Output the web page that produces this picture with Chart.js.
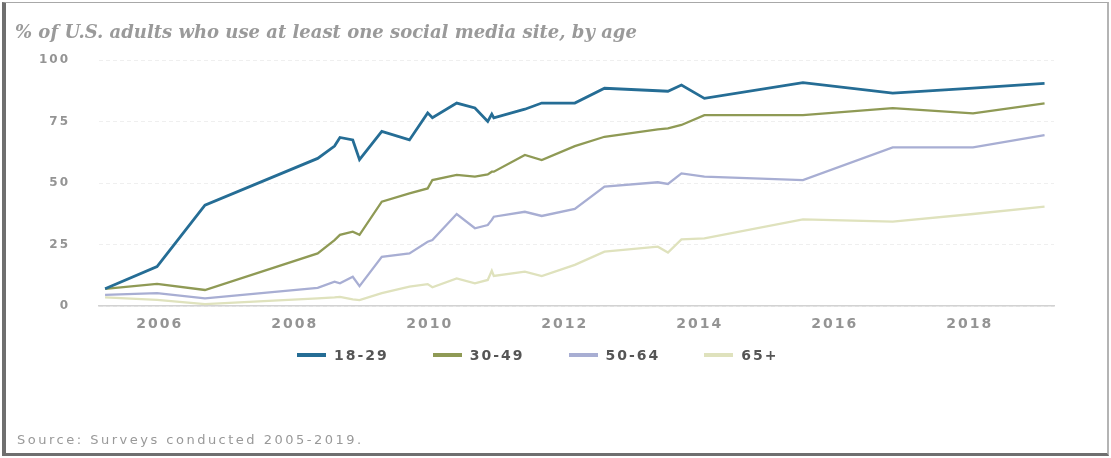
<!DOCTYPE html>
<html lang="en">
<head>
<meta charset="UTF-8">
<title>Social media use by age</title>
<style>
  body {
    margin: 0;
    width: 1111px;
    height: 458px;
    background: #fff;
    position: relative;
    overflow: hidden;
    font-family: "DejaVu Sans", sans-serif;
  }
  .frame {
    position: absolute;
    left: 2px;
    top: 2px;
    width: 1101px;
    height: 450px;
    border-left: 4px solid #6f6f6f;
    border-bottom: 3px solid #6f6f6f;
    border-top: 1px solid #a8a8a8;
    border-right: 2px solid #b4b4b4;
  }
  .title {
    position: absolute;
    left: 15px;
    top: 21px;
    font-family: "DejaVu Serif", serif;
    font-style: italic;
    font-weight: bold;
    font-size: 18px;
    color: #9a9a9a;
    white-space: nowrap;
  }
  .source {
    position: absolute;
    left: 17px;
    top: 432px;
    font-size: 13px;
    letter-spacing: 2.5px;
    color: #999;
    white-space: nowrap;
  }
  #chartBox {
    position: absolute;
    left: 0;
    top: 0;
    width: 1111px;
    height: 458px;
  }
  #legend {
    position: absolute;
    left: 297px;
    top: 347px;
    display: flex;
    align-items: center;
  }
  .item {
    display: flex;
    align-items: center;
    margin-right: 44px;
    font-weight: bold;
    font-size: 14px;
    letter-spacing: 2px;
    color: #555;
  }
  .swatch {
    width: 29px;
    height: 3.5px;
    margin-right: 8px;
  }
</style>
</head>
<body>
<div class="frame"></div>
<div id="chartBox"><canvas id="usageChart"></canvas></div>
<div class="title">% of U.S. adults who use at least one social media site, by age</div>
<div id="legend"></div>
<div class="source">Source: Surveys conducted 2005-2019.</div>

<script src="https://cdn.jsdelivr.net/npm/chart.js"></script>
<script>
// survey dates as decimal years
const surveyDates = [2005.19, 2005.96, 2006.67, 2008.34, 2008.59, 2008.67, 2008.86, 2008.96,
  2009.29, 2009.70, 2009.97, 2010.04, 2010.40, 2010.67, 2010.86, 2010.92, 2010.95,
  2011.41, 2011.66, 2012.15, 2012.59, 2013.38, 2013.53, 2013.73, 2014.07, 2015.53,
  2016.86, 2018.05, 2019.11];

const ages18to29 = [7, 16, 41, 60, 65, 68.5, 67.5, 59.5, 71, 67.5, 78.5, 76.5, 82.5, 80.5, 75,
  78, 76.5, 80, 82.5, 82.5, 88.5, 87.5, 87.3, 89.8, 84.4, 90.8, 86.5, 88.6, 90.5];
const ages30to49 = [7, 9, 6.5, 21.4, 26.8, 28.9, 30.2, 28.9, 42.4, 45.8, 47.8, 51.2, 53.3, 52.6,
  53.5, 54.6, 54.6, 61.4, 59.3, 65, 68.8, 71.8, 72.2, 73.6, 77.6, 77.6, 80.4, 78.3, 82.4];
const ages50to64 = [4.5, 5.2, 3.1, 7.4, 9.9, 9.2, 11.9, 8.1, 20, 21.4, 26.1, 26.8, 37.4, 31.6,
  32.9, 35, 36.3, 38.3, 36.6, 39.5, 48.5, 50.3, 49.6, 53.9, 52.6, 51.2, 64.5, 64.5, 69.5];
const ages65plus = [3.5, 2.5, 0.8, 3.1, 3.5, 3.7, 2.7, 2.4, 5.2, 7.9, 8.9, 7.6, 11.2, 9.2,
  10.6, 14.3, 12.2, 14, 12.2, 16.7, 22.1, 24.1, 21.7, 27.1, 27.5, 35.2, 34.3, 37.4, 40.4];

const seriesLabels = ['18-29', '30-49', '50-64', '65+'];
const yearTicks = [2006, 2008, 2010, 2012, 2014, 2016, 2018];
const pctTicks = [0, 25, 50, 75, 100];

const lineColors = ['#256d95', '#8f9a55', '#a8aed3', '#dfe2bd'];
const lineWidths = [2.8, 2.3, 2.3, 2.3];

const allSeries = [ages18to29, ages30to49, ages50to64, ages65plus];

const datasets = allSeries.map((vals, i) => ({
  label: seriesLabels[i],
  data: surveyDates.map((d, j) => ({ x: d, y: vals[j] })),
  borderColor: lineColors[i],
  borderWidth: lineWidths[i],
  pointRadius: 0,
  tension: 0,
  fill: false,
  order: i
}));

// ticks in the picture are spaced out a bit
const tickSpacing = {
  id: 'tickSpacing',
  beforeDraw(chart) { chart.ctx.letterSpacing = '2px'; },
  beforeDatasetsDraw(chart) { chart.ctx.letterSpacing = '0px'; }
};

new Chart(document.getElementById('usageChart'), {
  type: 'line',
  data: { datasets: datasets },
  plugins: [tickSpacing],
  options: {
    responsive: true,
    maintainAspectRatio: false,
    animation: false,
    layout: { padding: { left: 19, right: 57, top: 60, bottom: 122 } },
    plugins: {
      legend: { display: false },
      tooltip: { enabled: false }
    },
    scales: {
      x: {
        type: 'linear',
        min: 2005.1,
        max: 2019.25,
        afterBuildTicks: s => { s.ticks = yearTicks.map(v => ({ value: v })); },
        afterFit: s => { s.height = 30; },
        grid: { display: false, drawTicks: false },
        border: { display: true, color: '#d2d2d2', width: 1.5 },
        ticks: {
          padding: 10,
          color: '#949494',
          font: { family: 'DejaVu Sans', size: 14, weight: 'bold' },
          callback: v => String(v),
          maxRotation: 0
        }
      },
      y: {
        min: 0,
        max: 100,
        afterBuildTicks: s => { s.ticks = pctTicks.map(v => ({ value: v })); },
        afterFit: s => { s.width = 80; },
        grid: { color: '#efefef', drawTicks: false },
        border: { display: false, dash: [4, 3] },
        ticks: {
          padding: 29,
          color: '#949494',
          font: { family: 'DejaVu Sans', size: 12, weight: 'bold' },
          callback: v => String(v)
        }
      }
    }
  }
});

// legend
const legendBox = document.getElementById('legend');
seriesLabels.forEach((name, i) => {
  const item = document.createElement('div');
  item.className = 'item';
  const sw = document.createElement('span');
  sw.className = 'swatch';
  sw.style.background = lineColors[i];
  item.appendChild(sw);
  item.appendChild(document.createTextNode(name));
  legendBox.appendChild(item);
});
</script>
</body>
</html>
